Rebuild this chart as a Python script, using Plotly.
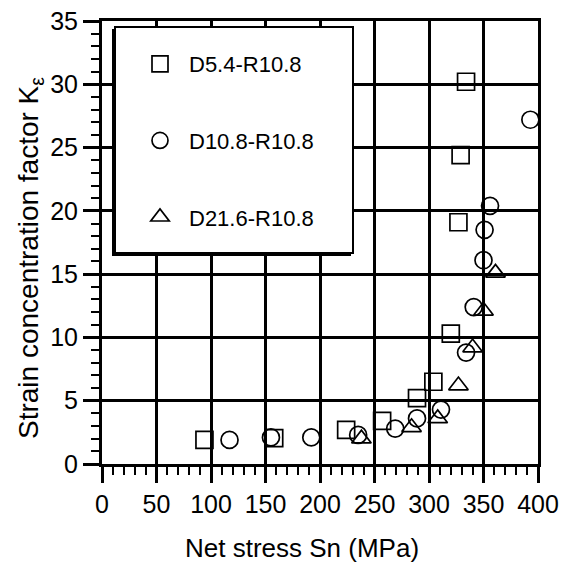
import plotly.graph_objects as go

# ---- data ----
sq_name = "D5.4-R10.8"
sq_x = [94, 158, 224, 257, 289, 304, 320, 327, 329, 334]
sq_y = [1.9, 2.05, 2.7, 3.4, 5.2, 6.5, 10.3, 19.1, 24.4, 30.2]

ci_name = "D10.8-R10.8"
ci_x = [117, 155, 192, 235, 269, 289, 311, 334, 341, 350, 351, 356, 393]
ci_y = [1.9, 2.1, 2.1, 2.3, 2.8, 3.6, 4.3, 8.8, 12.4, 16.1, 18.5, 20.4, 27.2]

tr_name = "D21.6-R10.8"
tr_x = [238, 284, 308, 327, 340, 350, 361]
tr_y = [2.0, 2.9, 3.6, 6.2, 9.2, 12.1, 15.1]

x_ticks = [0, 50, 100, 150, 200, 250, 300, 350, 400]
y_ticks = [0, 5, 10, 15, 20, 25, 30, 35]

FONT = "Liberation Sans, Arial, sans-serif"

fig = go.Figure()
for i, (name, xs, ys, sym) in enumerate([
    (sq_name, sq_x, sq_y, "square-open"),
    (ci_name, ci_x, ci_y, "circle-open"),
    (tr_name, tr_x, tr_y, "triangle-up-open"),
]):
    fig.add_trace(go.Scatter(
        x=xs, y=ys, mode="markers", name=name, legendgroup=f"g{i}",
        marker=dict(symbol=sym, size=17, color="black", line=dict(width=1.7, color="black")),
    ))

axis_common = dict(
    showline=True, linecolor="black", linewidth=3, mirror=True,
    showgrid=True, gridcolor="black", gridwidth=2.5, zeroline=False,
    ticks="outside", tickcolor="black", tickwidth=2.5, ticklen=16,
    tickfont=dict(family=FONT, size=25, color="black"),
    automargin=False,
)

fig.update_xaxes(
    range=[0, 400], tickvals=x_ticks,
    minor=dict(dtick=10, ticks="outside", ticklen=8, tickwidth=1.8, tickcolor="black", showgrid=False),
    **axis_common,
)
fig.update_yaxes(
    range=[0, 35], tickvals=y_ticks,
    minor=dict(dtick=1, ticks="outside", ticklen=8, tickwidth=1.8, tickcolor="black", showgrid=False),
    **axis_common,
)

# legend box (shadow + white box)
fig.add_shape(type="rect", xref="paper", yref="paper",
              x0=(112 - 102) / 436, x1=(351 - 102) / 436,
              y0=(464 - 256) / 443, y1=(464 - 29) / 443,
              fillcolor="black", line=dict(width=0), layer="above")
fig.add_shape(type="rect", xref="paper", yref="paper",
              x0=(115 - 102) / 436, x1=(353 - 102) / 436,
              y0=(464 - 253) / 443, y1=(464 - 27) / 443,
              fillcolor="white", line=dict(color="black", width=2), layer="above")

fig.add_annotation(
    text="Net stress Sn (MPa)", xref="paper", yref="paper",
    x=(302 - 102) / 436, y=(464 - 548) / 443, showarrow=False,
    font=dict(family=FONT, size=26, color="black"), xanchor="center", yanchor="middle",
)
fig.add_annotation(
    text="Strain concentration factor K<sub>ε</sub>", xref="paper", yref="paper",
    x=(30 - 102) / 436, y=(464 - 258) / 443, showarrow=False, textangle=-90,
    font=dict(family=FONT, size=28, color="black"), xanchor="center", yanchor="middle",
)

fig.update_layout(
    width=573, height=566,
    margin=dict(l=102, r=35, t=21, b=102),
    paper_bgcolor="white", plot_bgcolor="white",
    showlegend=True,
    legend=dict(
        x=(131 - 102) / 436, y=(464 - 43) / 443, xanchor="left", yanchor="top",
        bgcolor="rgba(0,0,0,0)", borderwidth=0,
        font=dict(family=FONT, size=22, color="black"),
        tracegroupgap=45, itemwidth=48, itemsizing="trace",
    ),
)

fig.write_html("out.html")
